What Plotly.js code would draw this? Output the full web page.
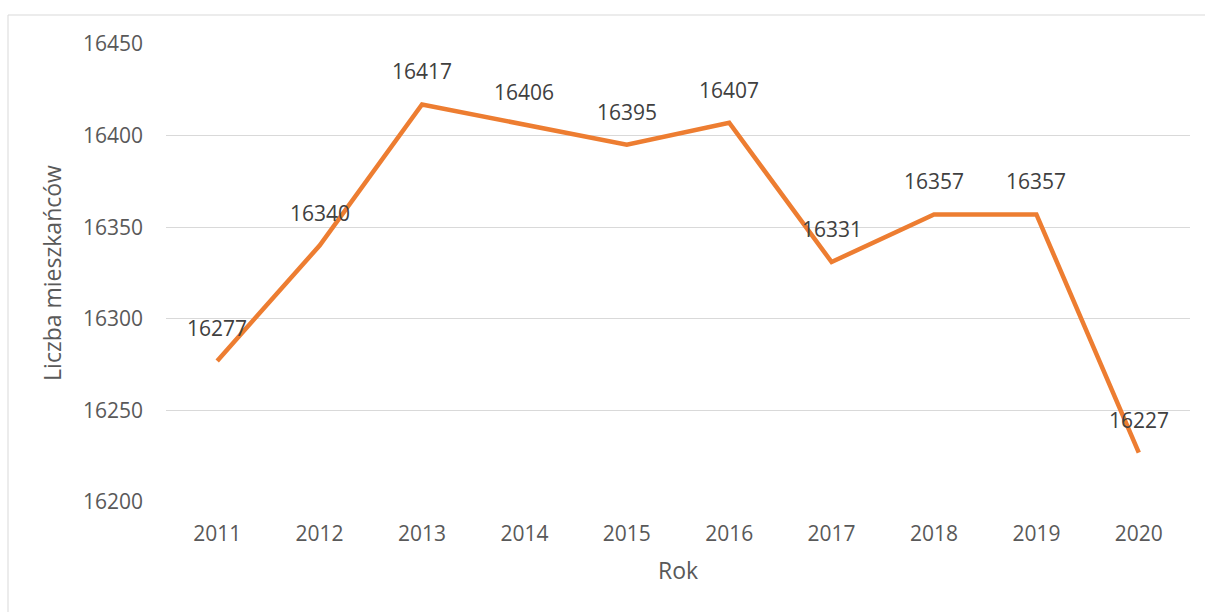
<!DOCTYPE html>
<html><head><meta charset="utf-8">
<script src="https://cdn.plot.ly/plotly-3.0.1.min.js"></script>
<style>html,body{margin:0;padding:0;background:#fff;}#c{width:1205px;height:612px;}</style>
</head><body><div id="c"></div>
<script>
const years = ['2011','2012','2013','2014','2015','2016','2017','2018','2019','2020'];
const population = [16277,16340,16417,16406,16395,16407,16331,16357,16357,16227];
const yTicks = [16200,16250,16300,16350,16400,16450];

const FONT = 'Open Sans, Liberation Sans, sans-serif';
const W = 1205, H = 612, L = 166, R = 15, T = 44, B = 110;
const pw = W - L - R, ph = H - T - B;

const annotations = years.map((y, i) => ({
  x: i, y: population[i], xref: 'x', yref: 'y', text: String(population[i]),
  showarrow: false, yshift: 33, font: {family: FONT, size: 21, color: '#404040'}
}));

Plotly.newPlot('c', [{
  x: years, y: population, type: 'scatter', mode: 'lines',
  line: {color: '#ED7D31', width: 4.5}, hoverinfo: 'skip'
}], {
  width: W, height: H,
  margin: {l: L, r: R, t: T, b: B, autoexpand: false},
  paper_bgcolor: '#fff', plot_bgcolor: '#fff',
  showlegend: false,
  font: {family: FONT, size: 21, color: '#595959'},
  xaxis: {
    type: 'category', range: [-0.5, years.length - 0.5], autorange: false,
    showgrid: false, zeroline: false, showline: false,
    ticks: '', ticklabelstandoff: 17, automargin: false,
    tickfont: {family: FONT, size: 21, color: '#595959'},
    title: {text: 'Rok', standoff: 16, font: {family: FONT, size: 23, color: '#595959'}}
  },
  yaxis: {
    range: [16200, 16450], autorange: false, tickvals: yTicks, ticktext: yTicks.map(String),
    showgrid: true, gridcolor: '#D9D9D9', gridwidth: 1, zeroline: false, showline: false,
    ticks: '', ticklabelstandoff: 22, automargin: false,
    tickfont: {family: FONT, size: 21, color: '#595959'},
    title: {text: 'Liczba mieszkańców', standoff: 14, font: {family: FONT, size: 23, color: '#595959'}}
  },
  annotations: annotations,
  shapes: [{
    type: 'rect', xref: 'paper', yref: 'paper',
    x0: (8 - L) / pw, x1: (W + 5 - L) / pw,
    y0: (H - (H + 5) - B) / ph, y1: (H - 15 - B) / ph,
    line: {color: '#D9D9D9', width: 1}, fillcolor: 'rgba(0,0,0,0)', layer: 'below'
  }]
}, {displayModeBar: false, staticPlot: true});
</script></body></html>
